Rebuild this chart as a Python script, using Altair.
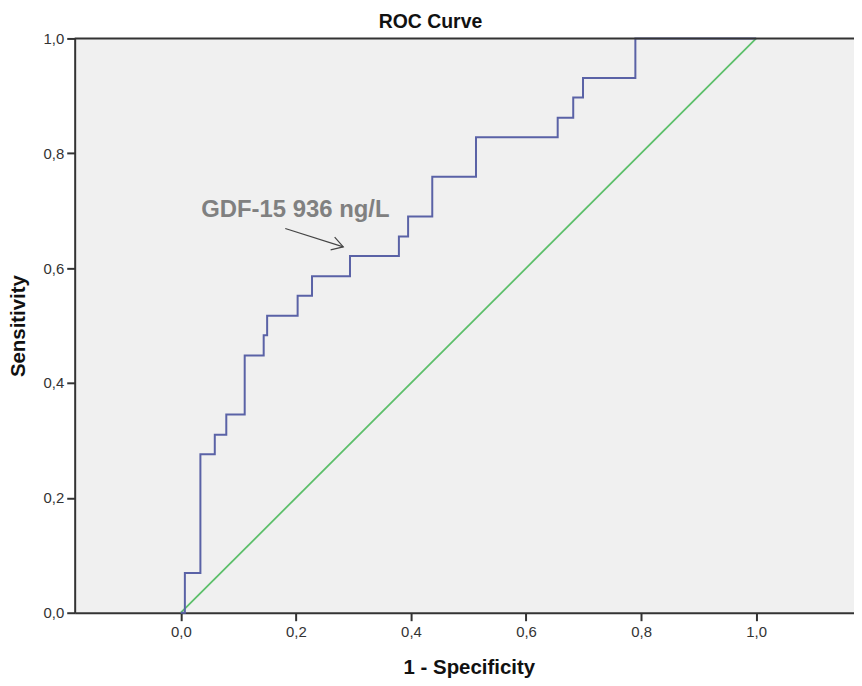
import altair as alt
import pandas as pd

# ROC curve (step points: x = 1 - specificity, y = sensitivity after the step)
roc_fpr = [0.0, 0.007, 0.034, 0.059, 0.079, 0.111, 0.144, 0.150, 0.203, 0.228,
           0.294, 0.379, 0.395, 0.437, 0.513, 0.655, 0.682, 0.699, 0.790, 1.0]
roc_tpr = [0.0, 0.069, 0.276, 0.310, 0.345, 0.448, 0.483, 0.517, 0.552, 0.586,
           0.621, 0.655, 0.690, 0.759, 0.828, 0.862, 0.897, 0.931, 1.0, 1.0]

# reference (chance) diagonal
ref_x = [0.0, 1.0]
ref_y = [0.0, 1.0]

tick_values = [0.0, 0.2, 0.4, 0.6, 0.8, 1.0]

chart_title = ["ROC Curve"]

# annotation
ann_text = ["GDF-15 936 ng/L"]
ann_x = [0.199]
ann_y = [0.689]
arrow_x = [0.1815]
arrow_y = [0.669]
arrow_x2 = [0.2823]
arrow_y2 = [0.637]

W, H = 783, 577
FONT = "Liberation Sans"
XDOM = [-0.1845, 1.17]

roc_df = pd.DataFrame({"fpr": roc_fpr, "tpr": roc_tpr})
ref_df = pd.DataFrame({"fpr": ref_x, "tpr": ref_y})
ann_df = pd.DataFrame({"fpr": ann_x, "tpr": ann_y, "label": ann_text})
arr_df = pd.DataFrame({"fpr": arrow_x, "tpr": arrow_y, "fpr2": arrow_x2, "tpr2": arrow_y2})
top_df = pd.DataFrame({"tpr": [1.0]})
title_df = pd.DataFrame({"label": chart_title})

label_expr = "replace(format(datum.value, '.1f'), '.', ',')"

x_axis = alt.Axis(values=tick_values, labelExpr=label_expr, title="1 - Specificity",
                  grid=False, tickSize=8, tickWidth=2, tickColor="#333",
                  domainColor="#333", domainWidth=2, labelFontSize=15,
                  labelColor="#333", labelPadding=4, labelFont=FONT,
                  titleFont=FONT, titleFontSize=20.5, titleFontWeight="bold",
                  titleColor="#111", titleX=396, titleAlign="center",
                  titleY=61, titleBaseline="alphabetic")
y_axis = alt.Axis(values=tick_values, labelExpr=label_expr, title="Sensitivity",
                  grid=False, tickSize=8, tickWidth=2, tickColor="#333",
                  domainColor="#333", domainWidth=2, labelFontSize=15,
                  labelColor="#333", labelPadding=3, labelFont=FONT,
                  titleFont=FONT, titleFontSize=20.5, titleFontWeight="bold",
                  titleColor="#111", titleX=-56, titleBaseline="middle",
                  titleAngle=-90)

xs = alt.Scale(domain=XDOM, nice=False, zero=False)
ys = alt.Scale(domain=[0, 1], nice=False, zero=False)

diag = alt.Chart(ref_df).mark_line(color="#5cbf6a", strokeWidth=1.8).encode(
    x=alt.X("fpr:Q", scale=xs, axis=x_axis),
    y=alt.Y("tpr:Q", scale=ys, axis=y_axis),
)

roc = alt.Chart(roc_df).mark_line(color="#5a62a6", strokeWidth=2,
                                  interpolate="step-after").encode(
    x=alt.X("fpr:Q", scale=xs),
    y=alt.Y("tpr:Q", scale=ys),
)

top = alt.Chart(top_df).mark_rule(color="#333", strokeWidth=2).encode(
    x=alt.value(0), x2=alt.value(W),
    y=alt.Y("tpr:Q", scale=ys),
)

ann = alt.Chart(ann_df).mark_text(font=FONT, fontSize=24, fontWeight="bold",
                                  color="#808080", align="center",
                                  baseline="alphabetic").encode(
    x=alt.X("fpr:Q", scale=xs),
    y=alt.Y("tpr:Q", scale=ys),
    text="label:N",
)

arrow_line = alt.Chart(arr_df).mark_rule(color="#444", strokeWidth=1.2).encode(
    x=alt.X("fpr:Q", scale=xs), y=alt.Y("tpr:Q", scale=ys),
    x2="fpr2:Q", y2="tpr2:Q",
)

arrow_head = alt.Chart(arr_df).mark_point(
    shape="M -1 -0.6 L 0 0 L -1 0.6", filled=False, size=500, angle=17.5,
    color="#444", strokeWidth=1.2, opacity=1,
).encode(
    x=alt.X("fpr2:Q", scale=xs),
    y=alt.Y("tpr2:Q", scale=ys),
)

title_mark = alt.Chart(title_df).mark_text(
    font=FONT, fontSize=19.5, fontWeight="bold", color="#111",
    align="center", baseline="alphabetic",
).encode(x=alt.value(357.5), y=alt.value(-10.8), text="label:N")

chart = alt.layer(diag, roc, top, ann, arrow_line, arrow_head, title_mark).properties(
    width=W, height=H,
    autosize=alt.AutoSizeParams(type="none"),
    padding={"left": 67, "top": 29, "right": 0, "bottom": 64},
    background="white",
).configure_view(fill="#f0f0f0", strokeWidth=0)

chart.save("out.html", embed_options={"renderer": "svg", "actions": False})
